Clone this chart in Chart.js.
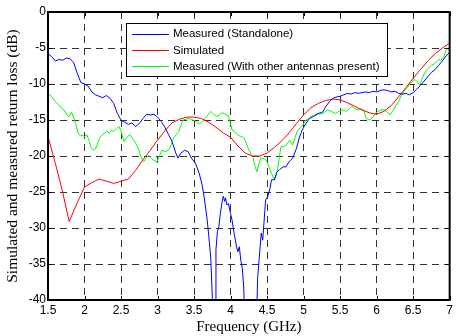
<!DOCTYPE html>
<html>
<head>
<meta charset="utf-8">
<script src="https://cdn.jsdelivr.net/npm/chart.js@4/dist/chart.umd.min.js"></script>
<style>
  html, body { margin: 0; padding: 0; background: #fff; }
  #c { display: block; }
</style>
</head>
<body>
<canvas id="c" width="456" height="336"></canvas>
<script>
// ---- data ----
const seriesNames = ['Measured (Standalone)', 'Simulated', 'Measured (With other antennas present)'];

const xTicks = [1.5, 2, 2.5, 3, 3.5, 4, 4.5, 5, 5.5, 6, 6.5, 7];
const yTicks = [-40, -35, -30, -25, -20, -15, -10, -5, 0];

const freqStandalone = [1.50,1.55,1.60,1.65,1.70,1.75,1.80,1.85,1.90,1.95,2.00,2.05,2.10,2.15,2.20,2.25,2.30,2.35,2.40,2.45,2.50,2.55,2.60,2.65,2.70,2.75,2.80,2.85,2.90,2.95,3.00,3.05,3.10,3.15,3.20,3.25,3.28,3.32,3.37,3.42,3.47,3.52,3.57,3.61,3.64,3.68,3.71,3.73,3.77,3.79,3.80,3.82,3.84,3.86,3.88,3.90,3.92,3.93,3.95,3.97,4.00,4.02,4.05,4.08,4.10,4.12,4.14,4.16,4.18,4.20,4.35,4.37,4.39,4.42,4.44,4.46,4.48,4.51,4.54,4.56,4.60,4.63,4.67,4.72,4.76,4.80,4.85,4.90,4.94,4.98,5.03,5.08,5.14,5.20,5.26,5.30,5.35,5.40,5.45,5.50,5.55,5.60,5.65,5.70,5.75,5.80,5.85,5.90,5.95,6.00,6.05,6.10,6.15,6.20,6.25,6.30,6.35,6.40,6.45,6.50,6.55,6.60,6.65,6.70,6.75,6.80,6.85,6.90,6.95,7.00];
const standaloneLoss = [-5.8,-6.2,-6.8,-6.6,-6.7,-6.4,-6.5,-7.0,-8.5,-9.8,-10.0,-10.3,-11.1,-11.5,-11.7,-11.9,-11.6,-12.0,-12.7,-14.1,-15.0,-15.3,-15.6,-15.4,-15.9,-15.5,-14.8,-14.2,-14.3,-14.2,-14.6,-15.2,-16.0,-17.0,-18.0,-19.6,-20.3,-19.6,-19.2,-19.4,-20.4,-21.0,-22.4,-24.0,-25.8,-28.9,-32.0,-34.4,-45,-45,-33.0,-30.5,-29.8,-28.0,-26.6,-25.6,-26.3,-25.8,-26.8,-26.6,-28.0,-28.9,-30.8,-32.5,-33.3,-32.6,-34.5,-35.5,-38.2,-45,-45,-37.0,-34.5,-30.7,-31.7,-28.9,-26.1,-25.6,-24.5,-23.3,-23.3,-22.3,-21.9,-21.5,-21.5,-20.8,-20.3,-19.0,-17.5,-16.4,-15.5,-14.8,-14.5,-14.1,-13.9,-13.2,-12.5,-12.0,-11.8,-11.7,-11.5,-11.3,-11.4,-11.2,-11.3,-11.2,-11.1,-11.2,-11.0,-11.1,-10.9,-10.8,-10.9,-11.1,-11.0,-11.3,-11.4,-11.3,-11.5,-11.2,-10.7,-10.2,-9.6,-9.0,-8.4,-8.0,-7.4,-6.8,-6.1,-5.6];

const freqSimulated = [1.50,1.60,1.70,1.79,1.90,2.00,2.10,2.20,2.40,2.60,2.70,2.80,2.90,3.00,3.10,3.20,3.30,3.40,3.50,3.60,3.70,3.80,3.90,4.00,4.10,4.20,4.30,4.40,4.50,4.60,4.70,4.80,4.90,5.00,5.10,5.20,5.30,5.40,5.50,5.60,5.70,5.80,5.90,6.00,6.10,6.20,6.30,6.40,6.50,6.60,6.70,6.80,6.90,7.00];
const simulatedLoss = [-17.3,-21.0,-25.0,-29.1,-26.5,-24.3,-23.7,-23.2,-23.8,-23.2,-22.0,-20.5,-19.2,-17.8,-16.5,-15.4,-14.9,-14.6,-14.6,-14.8,-15.3,-16.0,-16.8,-17.4,-18.6,-19.6,-20.0,-20.0,-19.6,-18.8,-17.9,-16.8,-15.5,-14.3,-13.3,-12.7,-12.3,-12.1,-12.2,-12.6,-13.1,-13.6,-14.0,-14.2,-13.8,-13.0,-11.8,-10.5,-9.2,-8.0,-6.8,-5.8,-5.0,-4.3];

const freqWithOthers = [1.50,1.54,1.58,1.62,1.65,1.68,1.72,1.76,1.79,1.82,1.85,1.88,1.91,1.94,1.97,2.00,2.03,2.06,2.09,2.12,2.15,2.18,2.21,2.25,2.28,2.31,2.34,2.37,2.40,2.44,2.47,2.50,2.54,2.58,2.62,2.66,2.70,2.74,2.77,2.81,2.85,2.88,2.92,2.95,2.99,3.03,3.06,3.10,3.15,3.19,3.22,3.26,3.29,3.32,3.35,3.39,3.42,3.46,3.51,3.55,3.58,3.62,3.65,3.69,3.73,3.77,3.81,3.85,3.88,3.91,3.94,3.97,4.00,4.02,4.05,4.09,4.12,4.15,4.18,4.20,4.24,4.28,4.31,4.33,4.36,4.39,4.42,4.46,4.49,4.53,4.56,4.60,4.63,4.65,4.67,4.69,4.73,4.76,4.81,4.85,4.89,4.92,4.96,4.99,5.03,5.07,5.10,5.15,5.19,5.23,5.28,5.32,5.36,5.40,5.44,5.48,5.53,5.56,5.59,5.63,5.66,5.70,5.75,5.79,5.82,5.86,5.91,5.95,5.98,6.02,6.06,6.11,6.15,6.18,6.22,6.26,6.30,6.34,6.39,6.43,6.46,6.50,6.53,6.56,6.59,6.62,6.65,6.68,6.72,6.75,6.79,6.82,6.85,6.88,6.92,6.95,6.98,7.00];
const withOthersLoss = [-11.4,-11.6,-12.2,-12.6,-12.9,-13.3,-13.6,-14.3,-14.5,-13.9,-14.6,-15.5,-16.8,-17.2,-17.1,-17.3,-17.0,-17.8,-18.8,-19.2,-19.0,-18.3,-17.4,-17.0,-16.8,-16.5,-16.9,-16.4,-16.6,-16.2,-15.9,-16.5,-18.0,-17.4,-17.0,-17.6,-18.2,-19.0,-20.1,-20.8,-20.2,-19.9,-20.4,-20.6,-20.8,-19.9,-19.2,-19.4,-19.2,-18.4,-17.5,-17.0,-16.6,-15.8,-15.0,-14.9,-14.8,-14.9,-15.1,-15.4,-15.5,-15.1,-14.8,-14.3,-13.8,-14.2,-14.5,-14.3,-14.0,-14.1,-14.3,-14.4,-15.5,-16.4,-16.6,-17.0,-17.2,-17.3,-17.5,-17.8,-18.9,-19.8,-20.3,-21.3,-22.2,-21.0,-20.2,-20.4,-20.6,-21.6,-22.4,-23.3,-22.6,-21.5,-20.0,-18.7,-18.7,-18.5,-17.8,-18.5,-17.2,-16.4,-16.0,-15.7,-15.0,-14.8,-14.5,-14.3,-14.1,-14.2,-14.0,-13.6,-13.7,-13.9,-14.1,-13.8,-13.6,-13.7,-13.8,-13.4,-13.1,-13.4,-13.6,-13.5,-13.6,-14.8,-15.0,-14.6,-14.1,-13.8,-13.6,-13.6,-13.9,-14.3,-13.8,-13.1,-12.4,-11.6,-10.8,-10.4,-9.9,-9.5,-9.4,-9.8,-10.1,-9.4,-8.6,-8.1,-7.7,-7.4,-7.2,-6.9,-6.6,-6.7,-6.2,-5.3,-5.0,-5.5];

const seriesColors = ['#0000ff', '#ff0000', '#00ff00'];

function pts(xs, ys) { return xs.map((x, i) => ({ x: x, y: ys[i] })); }

// ---- plugins ----
const boxPlugin = {
  id: 'matlabBox',
  afterDatasetsDraw(chart) {
    const { ctx, chartArea: a, scales } = chart;
    ctx.save();
    ctx.strokeStyle = '#000';
    ctx.lineWidth = 1;
    const tl = 4;
    ctx.beginPath();
    scales.x.ticks.forEach(t => {
      const px = Math.round(scales.x.getPixelForValue(t.value)) + 0.5;
      ctx.moveTo(px, a.bottom); ctx.lineTo(px, a.bottom - tl);
      ctx.moveTo(px, a.top); ctx.lineTo(px, a.top + tl);
    });
    scales.y.ticks.forEach(t => {
      const py = Math.round(scales.y.getPixelForValue(t.value)) + 0.5;
      ctx.moveTo(a.left, py); ctx.lineTo(a.left + tl, py);
      ctx.moveTo(a.right, py); ctx.lineTo(a.right - tl, py);
    });
    ctx.stroke();
    ctx.lineWidth = 2;
    ctx.strokeRect(a.left, a.top, a.right - a.left, a.bottom - a.top);
    ctx.restore();
  }
};

const legendPlugin = {
  id: 'matlabLegend',
  afterDraw(chart) {
    const { ctx, chartArea: a } = chart;
    const left = a.left + 78, top = a.top + 11, w = 261, h = 53;
    ctx.save();
    ctx.fillStyle = '#fff';
    ctx.fillRect(left, top, w, h);
    ctx.strokeStyle = '#000';
    ctx.lineWidth = 1;
    ctx.strokeRect(left + 0.5, top + 0.5, w, h);
    ctx.font = '11.5px "Liberation Sans", Arial, sans-serif';
    ctx.textBaseline = 'middle';
    ctx.textAlign = 'left';
    chart.data.datasets.forEach((ds, i) => {
      const y = top + 10.5 + i * 16.4;
      ctx.strokeStyle = ds.borderColor;
      ctx.lineWidth = 1;
      ctx.beginPath();
      ctx.moveTo(left + 6, Math.round(y) + 0.5);
      ctx.lineTo(left + 43, Math.round(y) + 0.5);
      ctx.stroke();
      ctx.fillStyle = '#000';
      ctx.fillText(ds.label, left + 47, y + 0.5);
    });
    ctx.restore();
  }
};

new Chart(document.getElementById('c'), {
  type: 'line',
  data: {
    datasets: [
      { label: seriesNames[0], data: pts(freqStandalone, standaloneLoss), borderColor: seriesColors[0] },
      { label: seriesNames[1], data: pts(freqSimulated, simulatedLoss), borderColor: seriesColors[1] },
      { label: seriesNames[2], data: pts(freqWithOthers, withOthersLoss), borderColor: seriesColors[2] }
    ]
  },
  options: {
    responsive: false,
    animation: false,
    devicePixelRatio: 1,
    layout: { padding: { top: 12, right: 1, left: 0, bottom: 0 } },
    elements: {
      line: { borderWidth: 1, tension: 0, fill: false },
      point: { radius: 0, hoverRadius: 0 }
    },
    plugins: { legend: { display: false }, tooltip: { enabled: false } },
    scales: {
      x: {
        type: 'linear',
        min: 1.5, max: 7,
        afterFit(s) { s.height = 36; },
        afterBuildTicks(s) { s.ticks = xTicks.map(v => ({ value: v })); },
        grid: { color: '#333', lineWidth: 1, drawTicks: false },
        border: { display: false, dash: [7, 5] },
        ticks: { color: '#000', padding: 3, maxRotation: 0, autoSkip: false,
                 callback: v => String(v),
                 font: { family: '"Liberation Sans", Arial, sans-serif', size: 12 } },
        title: { display: true, text: 'Frequency (GHz)', color: '#000',
                 padding: { top: 0, bottom: 0 },
                 font: { family: '"Liberation Serif", "Times New Roman", serif', size: 15 } }
      },
      y: {
        type: 'linear',
        min: -40, max: 0,
        afterFit(s) { s.width = 48; },
        afterBuildTicks(s) { s.ticks = yTicks.map(v => ({ value: v })); },
        grid: { color: '#333', lineWidth: 1, drawTicks: false },
        border: { display: false, dash: [7, 5] },
        ticks: { color: '#000', padding: 2, autoSkip: false,
                 callback: v => String(v),
                 font: { family: '"Liberation Sans", Arial, sans-serif', size: 12 } },
        title: { display: true, text: 'Simulated and measured return loss (dB)', color: '#000',
                 padding: { top: 4, bottom: 0 },
                 font: { family: '"Liberation Serif", "Times New Roman", serif', size: 15.5 } }
      }
    }
  },
  plugins: [boxPlugin, legendPlugin]
});
</script>
</body>
</html>
